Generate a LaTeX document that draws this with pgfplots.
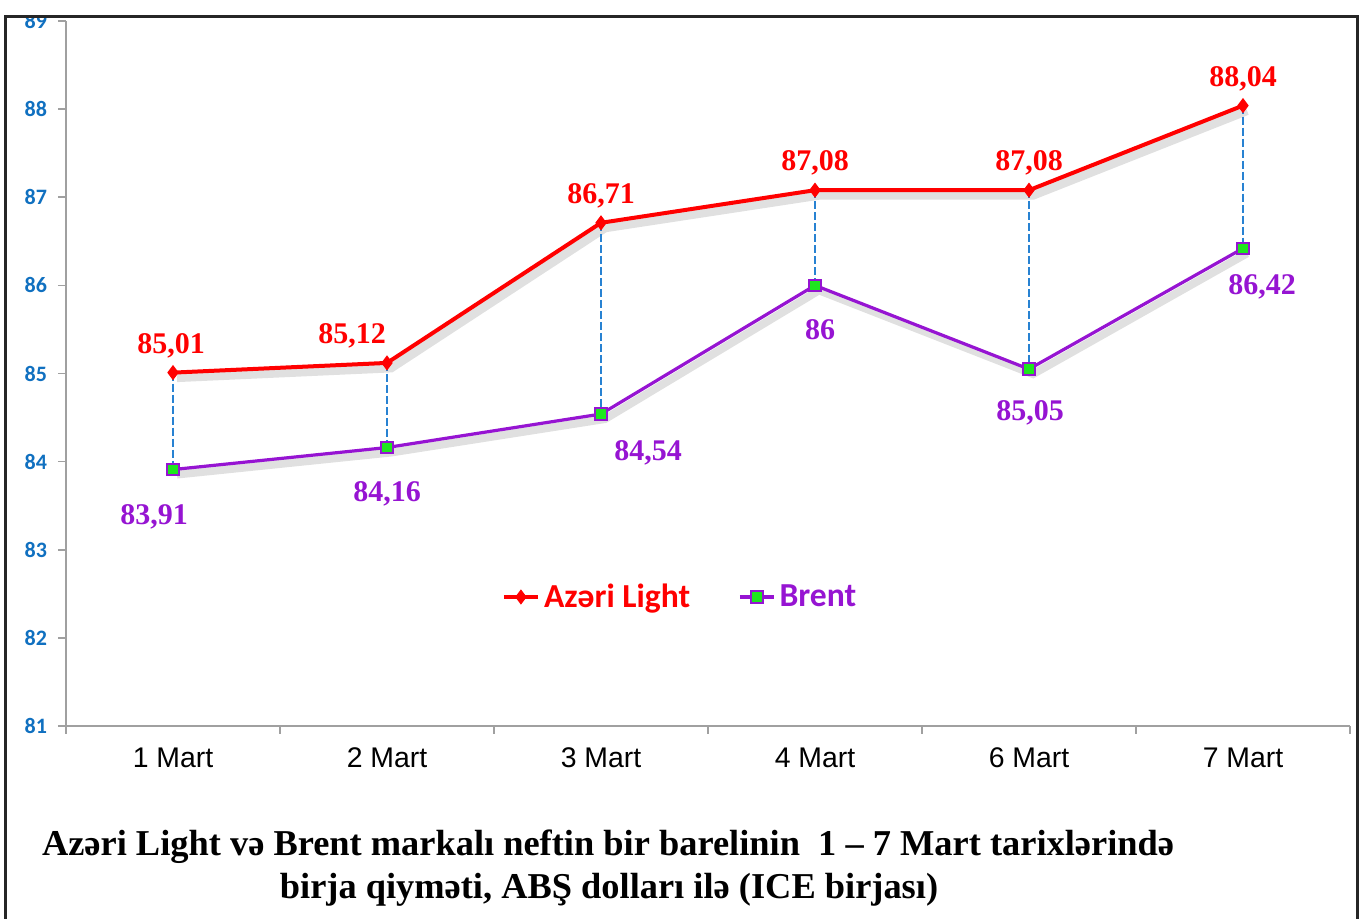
\documentclass[border=0pt]{standalone}
\usepackage{pgfplots}
\pgfplotsset{compat=1.18}
\usepackage{pgfplotstable}
\usepackage{fontspec}
\setmainfont{Liberation Serif}
\newfontfamily\arialf{Liberation Sans}
\newfontfamily\calf{Carlito}
\definecolor{azred}{RGB}{255,0,0}
\definecolor{brpurple}{RGB}{150,20,210}
\definecolor{brgreen}{RGB}{30,230,30}
\definecolor{dropblue}{RGB}{40,130,210}
\definecolor{ytickblue}{RGB}{16,112,192}
\definecolor{axgray}{RGB}{160,160,160}
\def\adx{0}\def\ady{0}\def\bdx{0}\def\bdy{0}

\pgfplotstableread{
x az br adx ady bdx bdy
0 85.01 83.91 -1 13.5 -9.5 -23.5
1 85.12 84.16 -17.5 13.5 0 -23
2 86.71 84.54 0 13.5 23.5 -19.5
3 87.08 86.00 0 13.5 2.5 -22
4 87.08 85.05 0 13.5 0.5 -22
5 88.04 86.42 0 13.5 9.5 -19
}\data

\begin{document}
\begin{tikzpicture}
\useasboundingbox (0,0) rectangle (683pt,459.5pt);
\begin{axis}[
  at={(33pt,96.5pt)}, anchor=south west,
  scale only axis, width=642pt, height=352.5pt,
  xmin=-0.5, xmax=5.5, ymin=81, ymax=89,
  axis x line*=bottom, axis y line*=left,
  axis line style={draw=axgray, line width=0.8pt},
  tick align=outside, major tick length=4pt,
  tick style={draw=axgray, line width=0.8pt},
  xtick={-0.5,0.5,...,5.5}, xticklabels={},
  extra x ticks={0,1,2,3,4,5},
  extra x tick labels={1 Mart, 2 Mart, 3 Mart, 4 Mart, 6 Mart, 7 Mart},
  extra x tick style={major tick length=0pt,
     tick label style={font=\arialf\fontsize{14.2}{16}\selectfont, yshift=-7.5pt}},
  ytick={81,82,...,89},
  yticklabel style={font=\calf\bfseries\fontsize{11}{12}\selectfont, text=ytickblue, xshift=-2pt},
  /pgf/number format/assume math mode=true,
  clip=false,
  legend style={at={(0.479,0.183)}, anchor=center, draw=none, fill=none,
     legend columns=2, /tikz/every even column/.append style={column sep=22pt},
     font=\calf\bfseries\fontsize{16.8}{19}\selectfont},
]
% shadows
\addplot[forget plot, draw=black, opacity=0.12, line width=4.5pt, xshift=2pt, yshift=-2.5pt] table[x=x,y=az]{\data};
\addplot[forget plot, draw=black, opacity=0.12, line width=4pt, xshift=2pt, yshift=-2.5pt] table[x=x,y=br]{\data};
% drop lines
\addplot[forget plot, dropblue, line width=0.7pt, dash pattern=on 4pt off 1.5pt, unbounded coords=jump]
  coordinates {(0,85.01) (0,83.91) (0.5,nan) (1,85.12) (1,84.16) (1.5,nan) (2,86.71) (2,84.54) (2.5,nan)
               (3,87.08) (3,86.00) (3.5,nan) (4,87.08) (4,85.05) (4.5,nan) (5,88.04) (5,86.42)};
% Azeri Light
\addplot[azred, line width=2pt, mark=diamond*, mark size=3.4pt, mark options={fill=azred, line width=0.5pt},
  nodes near coords={\pgfmathprintnumber[use comma,fixed,precision=2]{\pgfplotspointmeta}},
  visualization depends on={\thisrow{adx} \as \adx},
  visualization depends on={\thisrow{ady} \as \ady},
  every node near coord/.append style={font=\bfseries\fontsize{15}{17}\selectfont, text=azred,
     anchor=center, xshift=\adx, yshift=\ady},
  point meta=explicit]
  table[x=x, y=az, meta=az]{\data};
\addlegendentry{\textcolor{azred}{Azəri Light}}
% Brent
\addplot[brpurple, line width=1.6pt, mark=square*, mark size=2.9pt, mark options={fill=brgreen, draw=brpurple, line width=1pt},
  nodes near coords={\pgfmathprintnumber[use comma,fixed,precision=2]{\pgfplotspointmeta}},
  visualization depends on={\thisrow{bdx} \as \bdx},
  visualization depends on={\thisrow{bdy} \as \bdy},
  every node near coord/.append style={font=\bfseries\fontsize{15}{17}\selectfont, text=brpurple,
     anchor=center, xshift=\bdx, yshift=\bdy},
  point meta=explicit]
  table[x=x, y=br, meta=br]{\data};
\addlegendentry{\textcolor{brpurple}{Brent}}
\end{axis}
\fill[white] (0,451pt) rectangle (683pt,460pt);
\draw[line width=1.5pt, black!85] (2.5pt,-5pt) -- (2.5pt,451pt) -- (678.5pt,451pt) -- (678.5pt,-5pt);
\node[font=\bfseries\fontsize{18.2}{21.5}\selectfont, anchor=base] at (304pt,31.5pt)
  {Azəri Light və Brent markalı neftin bir barelinin\ \ 1 -- 7 Mart tarixlərində};
\node[font=\bfseries\fontsize{18.2}{21.5}\selectfont, anchor=base] at (304.5pt,10pt)
  {birja qiyməti, ABŞ dolları ilə (ICE birjası)};
\end{tikzpicture}
\end{document}
